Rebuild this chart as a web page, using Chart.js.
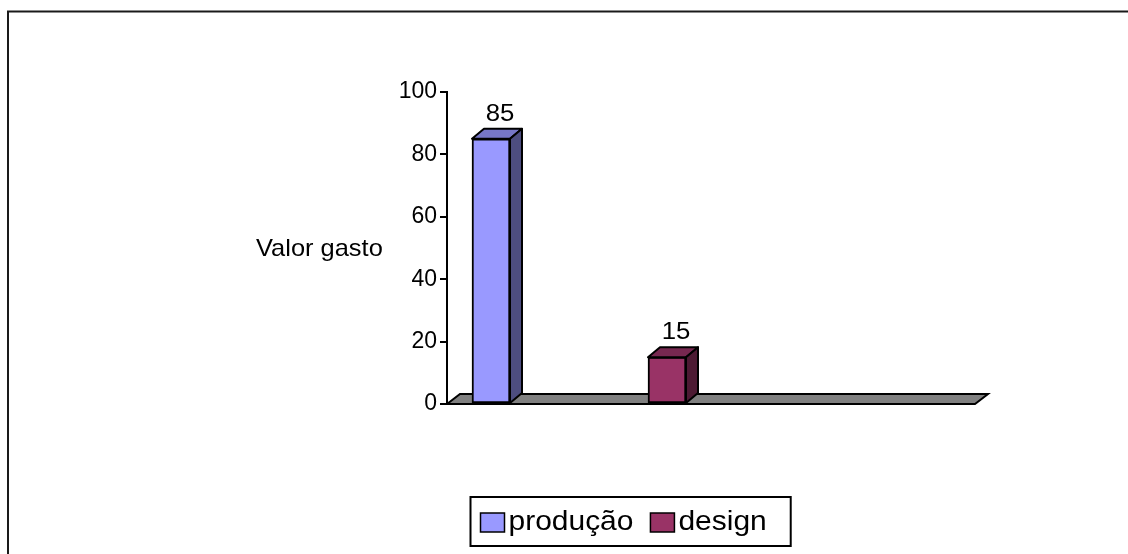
<!DOCTYPE html>
<html>
<head>
<meta charset="utf-8">
<script src="https://cdn.jsdelivr.net/npm/chart.js@4/dist/chart.umd.min.js"></script>
<style>
  html, body { margin: 0; padding: 0; background: #fff; }
  canvas { display: block; }
</style>
</head>
<body>
<canvas id="grafico" width="1128" height="554"></canvas>
<script>
// posições no eixo x (sem rótulo) e valores de cada série
const categorias = ["", "", "", "", "", ""];
const producao = [85, null, null, null, null, null];
const design = [null, null, 15, null, null, null];
const ticksY = [0, 20, 40, 60, 80, 100];
const tituloY = "Valor gasto";

const FONTE = "'Liberation Sans', Arial, sans-serif";
const PROF_X = 12;   // deslocamento da profundidade
const PROF_Y = 10;

function escurecer(hex, f) {
  const n = parseInt(hex.slice(1), 16);
  const r = Math.round(((n >> 16) & 255) * f);
  const g = Math.round(((n >> 8) & 255) * f);
  const b = Math.round((n & 255) * f);
  return `rgb(${r},${g},${b})`;
}

function poligono(ctx, pts, fill) {
  ctx.beginPath();
  ctx.moveTo(pts[0][0], pts[0][1]);
  for (let i = 1; i < pts.length; i++) ctx.lineTo(pts[i][0], pts[i][1]);
  ctx.closePath();
  ctx.fillStyle = fill;
  ctx.fill();
  ctx.stroke();
}

// texto um pouco esticado na horizontal, como no original do Excel
function textoLargo(ctx, txt, x, y, sx) {
  ctx.save();
  ctx.translate(x, y);
  ctx.scale(sx, 1);
  ctx.fillText(txt, 0, 0);
  ctx.restore();
}

const efeito3d = {
  id: "efeito3d",
  beforeDraw(chart) {
    const ctx = chart.ctx;
    ctx.save();
    // moldura externa
    ctx.strokeStyle = "#1a1a1a";
    ctx.lineWidth = 2;
    ctx.strokeRect(8, 11.5, 1300, 700);
    // título do eixo
    ctx.fillStyle = "#000";
    ctx.font = "24px " + FONTE;
    ctx.textBaseline = "alphabetic";
    ctx.textAlign = "left";
    textoLargo(ctx, tituloY, 256, 256, 1.06);
    ctx.restore();
  },
  beforeDatasetsDraw(chart) {
    const ctx = chart.ctx;
    const y0 = chart.scales.y.getPixelForValue(0);
    const { left, right } = chart.chartArea;
    ctx.save();
    ctx.strokeStyle = "#000";
    ctx.lineWidth = 2;
    poligono(ctx, [[left, y0], [left + PROF_X + 1, y0 - PROF_Y], [right + PROF_X + 1, y0 - PROF_Y], [right, y0]], "#808080");
    ctx.restore();
  },
  afterDatasetsDraw(chart) {
    const ctx = chart.ctx;
    ctx.save();
    ctx.strokeStyle = "#000";
    ctx.lineWidth = 2;
    ctx.lineJoin = "round";
    chart.data.datasets.forEach((ds, di) => {
      const meta = chart.getDatasetMeta(di);
      meta.data.forEach((el, i) => {
        const v = ds.data[i];
        if (v == null) return;
        const { x, y, base, width } = el.getProps(["x", "y", "base", "width"], true);
        const l = x - width / 2, r = x + width / 2;
        poligono(ctx, [[l, y], [l + PROF_X, y - PROF_Y], [r + PROF_X, y - PROF_Y], [r, y]], escurecer(ds.backgroundColor, 0.78));
        poligono(ctx, [[r, y], [r + PROF_X, y - PROF_Y], [r + PROF_X, base - PROF_Y], [r, base]], escurecer(ds.backgroundColor, 0.5));
        ctx.fillStyle = "#000";
        ctx.font = "23px " + FONTE;
        ctx.textAlign = "center";
        ctx.textBaseline = "alphabetic";
        textoLargo(ctx, String(v), x + PROF_X / 2 + 3, y - 18, 1.12);
      });
    });
    ctx.restore();
  },
  afterDraw(chart) {
    // legenda em caixa
    const ctx = chart.ctx;
    ctx.save();
    ctx.font = "28px " + FONTE;
    const sx = 1.07;
    const itens = chart.data.datasets.map(ds => ({
      texto: ds.label, cor: ds.backgroundColor, w: ctx.measureText(ds.label).width * sx,
    }));
    const sw = 24, sh = 19, gapTxt = 4, gapItem = 17, padL = 10, padR = 24;
    let total = padL + padR;
    itens.forEach((it, i) => { total += sw + gapTxt + it.w + (i < itens.length - 1 ? gapItem : 0); });
    const bx = 470.5, top = 497, boxH = 49;
    ctx.strokeStyle = "#000";
    ctx.lineWidth = 2;
    ctx.strokeRect(bx, top, total, boxH);
    let x = bx + padL;
    itens.forEach(it => {
      ctx.fillStyle = it.cor;
      ctx.lineWidth = 1.5;
      ctx.fillRect(x, 513, sw, sh);
      ctx.strokeRect(x, 513, sw, sh);
      ctx.fillStyle = "#000";
      ctx.textAlign = "left";
      ctx.textBaseline = "alphabetic";
      textoLargo(ctx, it.texto, x + sw + gapTxt, 530, sx);
      x += sw + gapTxt + it.w + gapItem;
    });
    ctx.restore();
  }
};

const config = {
  type: "bar",
  data: {
    labels: categorias,
    datasets: [
      {
        label: "produção",
        data: producao,
        backgroundColor: "#9999FF",
        borderColor: "#000",
        borderWidth: 2,
        borderSkipped: false,
        barThickness: 38,
      },
      {
        label: "design",
        data: design,
        backgroundColor: "#993366",
        borderColor: "#000",
        borderWidth: 2,
        borderSkipped: false,
        barThickness: 38,
      },
    ],
  },
  options: {
    responsive: false,
    animation: false,
    skipNull: true,
    layout: { padding: { top: 92, bottom: 150, left: 0, right: 153 } },
    plugins: {
      legend: { display: false },
      tooltip: { enabled: false },
    },
    scales: {
      x: { display: false },
      y: {
        min: ticksY[0],
        max: ticksY[ticksY.length - 1],
        afterBuildTicks: (s) => { s.ticks = ticksY.map(v => ({ value: v })); },
        afterFit: (s) => { s.width = 447; },
        border: { display: true, color: "#000", width: 2 },
        grid: { drawOnChartArea: false, drawTicks: true, tickLength: 7, color: "#000", lineWidth: 2 },
        ticks: { color: "#000", padding: 3, font: { family: FONTE, size: 23 } },
      },
    },
  },
  plugins: [efeito3d],
};

const grafico = new Chart(document.getElementById("grafico"), config);
</script>
</body>
</html>
